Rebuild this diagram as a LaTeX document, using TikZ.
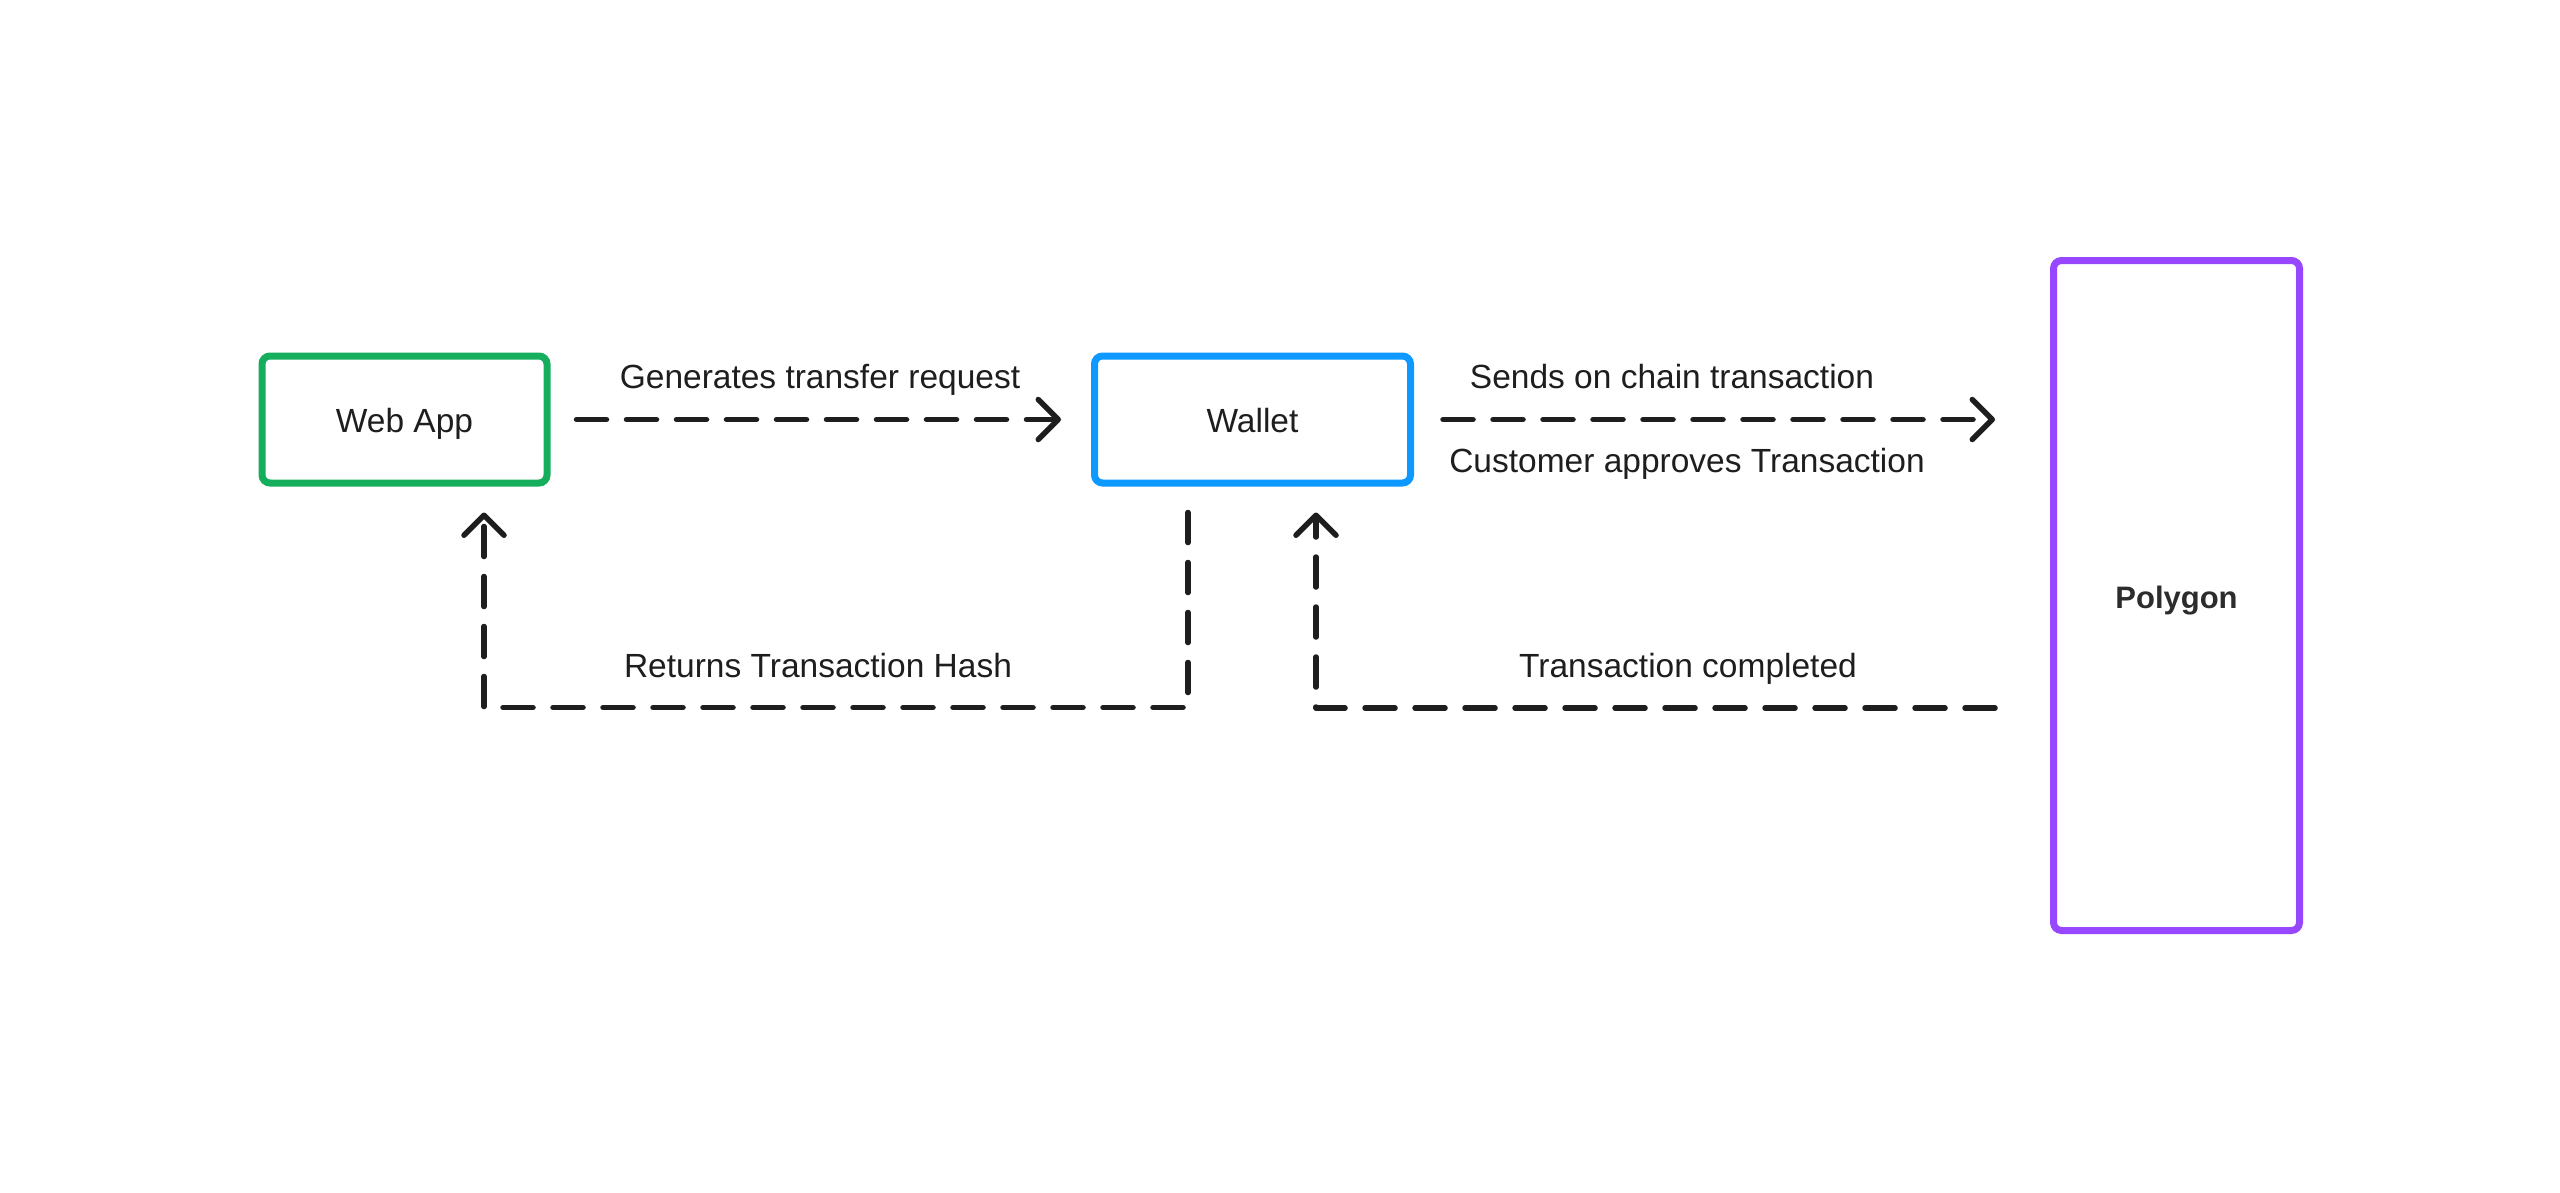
\documentclass[tikz,border=0pt]{standalone}
\usepackage{fontspec}
\setmainfont{Liberation Sans}
\usetikzlibrary{arrows.meta}
\definecolor{cgreen}{HTML}{14AE5C}
\definecolor{cblue}{HTML}{0D99FF}
\definecolor{cpurple}{HTML}{9747FF}
\definecolor{cink}{HTML}{1E1E1E}
\definecolor{cbold}{HTML}{2C2C2C}
\begin{document}
\begin{tikzpicture}[x=1pt,y=-1pt,
  boxstyle/.style={draw, line width=7pt, rounded corners=8pt, inner sep=0pt,
    font=\fontsize{33.5}{40}\selectfont, text=cink, text height=25pt, text depth=0pt},
  lbl/.style={font=\fontsize{33.5}{40}\selectfont, text=cink, anchor=base, inner sep=0pt},
  flow/.style={draw=cink, line width=5.5pt, line cap=round, line join=round,
    dash pattern=on 30pt off 20pt,
    -{Straight Barb[length=20pt,width=40pt,round]}},
]
\useasboundingbox[fill=white] (0,0) rectangle (2560,1192);

\node[boxstyle, draw=cgreen, minimum width=285pt, minimum height=127pt] (webapp) at (404.5,419.5) {Web App};
\node[boxstyle, draw=cblue, minimum width=316pt, minimum height=127pt] (wallet) at (1252.5,419.5) {Wallet};
\node[boxstyle, draw=cpurple, minimum width=246pt, minimum height=670pt, text=cbold,
  font=\fontsize{31}{38}\selectfont\bfseries] (polygon) at (2176.5,595.5) {Polygon};

% top arrows
\draw[flow] ([xshift=26pt]webapp.east) -- ([xshift=-30pt]wallet.west);
\draw[flow] ([xshift=29pt]wallet.east) -- ([xshift=-55pt]wallet.east -| polygon.west);

% return hash
\draw[flow] ([xshift=-64.5pt,yshift=-26pt]wallet.south) -- ++(0,195)
  -| ([xshift=79.5pt,yshift=-26pt]webapp.south);

% transaction completed
\path ([xshift=-55pt]polygon.west) ++(0,112.5) coordinate (tcstart);
\draw[flow] (tcstart) -| ([xshift=63.5pt,yshift=-26pt]wallet.south);

% labels
\node[lbl] (l1) at (820,388) {Generates transfer request};
\node[lbl] (l2) at (1672,388) {Sends on chain transaction};
\node[lbl] (l3) at (1687,472) {Customer approves Transaction};
\node[lbl] (l4) at (818,677) {Returns Transaction Hash};
\node[lbl] (l5) at (1688,677) {Transaction completed};
\end{tikzpicture}
\end{document}
